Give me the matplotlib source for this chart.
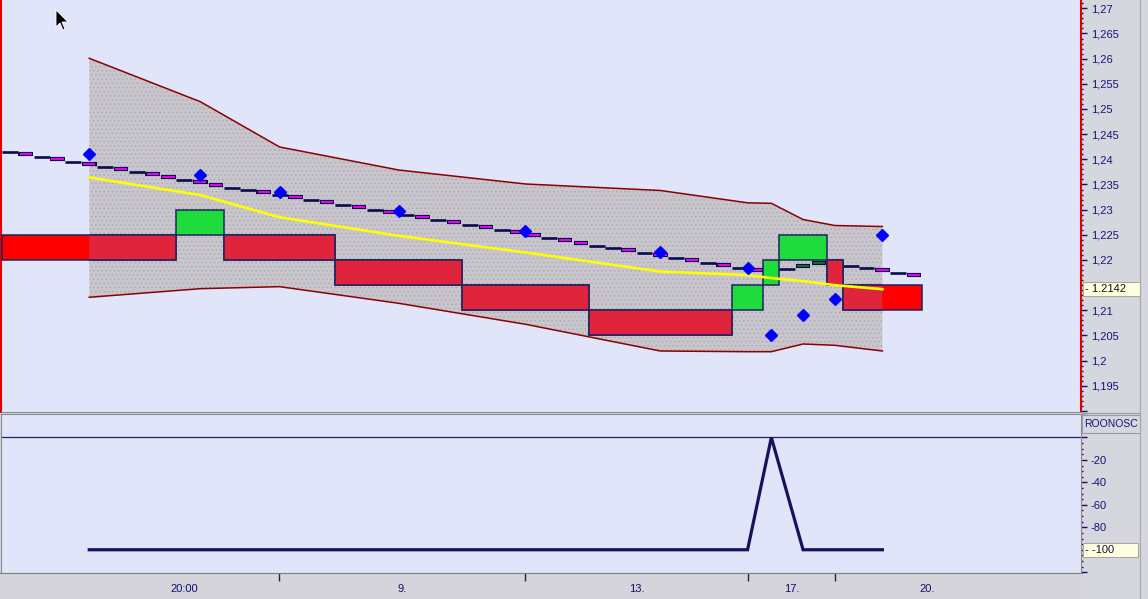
import matplotlib
matplotlib.use('Agg')
import matplotlib.pyplot as plt
from matplotlib.patches import Rectangle, Polygon
from matplotlib.ticker import MultipleLocator, FuncFormatter
import matplotlib.transforms as mtransforms
from matplotlib.lines import Line2D

plt.rcParams['font.family'] = ['Liberation Sans', 'DejaVu Sans']
plt.rcParams['hatch.linewidth'] = 0.4

# ---------------- data ----------------
# moving-average step line, one value per bar (bar k spans k..k+1)
step_vals = [1.24145, 1.24100, 1.24052, 1.24000, 1.23947, 1.23901, 1.23853, 1.23802, 1.23754, 1.23708,
             1.23643, 1.23595, 1.23544, 1.23490, 1.23436, 1.23391, 1.23345, 1.23297, 1.23252, 1.23192,
             1.23146, 1.23093, 1.23047, 1.22993, 1.22948, 1.22894, 1.22848, 1.22795, 1.22749, 1.22695,
             1.22650, 1.22596, 1.22550, 1.22491, 1.22437, 1.22391, 1.22332, 1.22278, 1.22238, 1.22193,
             1.22139, 1.22093, 1.22040, 1.21994, 1.21940, 1.21895, 1.21841, 1.21795, 1.21800, 1.21827,
             1.21875, 1.21934, 1.21910, 1.21887, 1.21847, 1.21795, 1.21748, 1.21696]
step_kind = list("NMNMNMNMNM"
                 "MNMMNNMNMN"
                 "MNMNMNMNMN"
                 "MNMMNMMNNM"
                 "NMNMNMNMNN"
                 "GGNNNMNM")

# boxes
box_start = [0, 11, 14, 21, 29, 37, 46, 48, 49, 52, 53]
box_end = [11, 14, 21, 29, 37, 46, 48, 49, 52, 53, 58]
box_low = [1.220, 1.225, 1.220, 1.215, 1.210, 1.205, 1.210, 1.215, 1.220, 1.215, 1.210]
box_high = [1.225, 1.230, 1.225, 1.220, 1.215, 1.210, 1.215, 1.220, 1.225, 1.220, 1.215]
box_dir = ['down', 'up', 'down', 'down', 'down', 'down', 'up', 'up', 'up', 'down', 'down']

# points
pt_x = [5.5, 12.5, 17.5, 25, 33, 41.5, 47, 48.5, 50.5, 52.5, 55.5]
dot_y = [1.2411, 1.2369, 1.2335, 1.2297, 1.2258, 1.2216, 1.2184, 1.2051, 1.2091, 1.2123, 1.2250]
yellow_y = [1.2364, 1.2329, 1.2285, 1.2248, 1.2215, 1.2177, 1.2170, 1.2164, 1.2158, 1.2150, 1.2142]
band_high = [1.26007, 1.25145, 1.24245, 1.23788, 1.23510, 1.23381, 1.23136, 1.23126, 1.22804, 1.22685, 1.22665]
band_low = [1.21259, 1.21430, 1.21470, 1.21140, 1.20723, 1.20192, 1.20178, 1.20178, 1.20331, 1.20305, 1.20192]
osc_vals = [-100, -100, -100, -100, -100, -100, -100, 0, -100, -100, -100]

last_price = 1.2142
osc_last = -100
osc_name = "ROONOSC"

xtick_pos = [17.5, 33, 47, 52.5]
xlabel_pos = [11.5, 25.25, 40, 49.75, 58.25]
xlabel_txt = ["20:00", "9.", "13.", "17.", "20."]

# ---------------- layout ----------------
W, H = 1148, 599
fig = plt.figure(figsize=(W / 100, H / 100), dpi=100, facecolor='#D6D6DE')


def fx(px):
    return px / W


def fy(py):
    return 1 - py / H


BG = '#E1E5FA'
NAVY = '#12126A'
XMIN, XMAX = -0.063, 68.02

ax = fig.add_axes([fx(1), fy(412), 1080 / W, 412 / H], facecolor=BG)
ax2 = fig.add_axes([fx(1), fy(573), 1080 / W, 159 / H], facecolor=BG)
axs = fig.add_axes([0, 0, 1082 / W, 26 / H], facecolor='#D4D4DA')

# ---------------- main panel ----------------
ax.set_xlim(XMIN, XMAX)
ax.set_ylim(1.18980, 1.27165)

band = ax.fill_between(pt_x, band_low, band_high, facecolor='#C8C6CC', edgecolor='none', zorder=1)
ax.fill_between(pt_x, band_low, band_high, facecolor='none', edgecolor='#A6A4AC',
                hatch='....', linewidth=0, zorder=1.05)
ax.plot(pt_x, band_high, color='#8B0000', lw=1.1, zorder=1.2)
ax.plot(pt_x, band_low, color='#8B0000', lw=1.1, zorder=1.2)

# step line
for k, (v, kind) in enumerate(zip(step_vals, step_kind)):
    if kind == 'N':
        ax.hlines(v, k, k + 1, colors='#0A0A50', linewidth=1.9, capstyle='butt', zorder=2)
    else:
        fill = '#FF00FF' if kind == 'M' else '#127812'
        ax.hlines(v, k + 0.04, k + 0.96, colors='#0A0A50', linewidth=3.0, capstyle='butt', zorder=2)
        ax.hlines(v, k + 0.11, k + 0.89, colors=fill, linewidth=1.3, capstyle='butt', zorder=2.1)

# boxes
clip_path = band.get_paths()[0]
for s, e, lo, hi, d in zip(box_start, box_end, box_low, box_high, box_dir):
    if d == 'up':
        ax.add_patch(Rectangle((s, lo), e - s, hi - lo, facecolor='#1EDC3C',
                               edgecolor='#1E2260', lw=1.1, zorder=3))
    else:
        ax.add_patch(Rectangle((s, lo), e - s, hi - lo, facecolor='#FF0000',
                               edgecolor='#1E2260', lw=1.1, zorder=3))
        r = Rectangle((s, lo), e - s, hi - lo, facecolor='#E0243C',
                      edgecolor='#1E2260', lw=1.1, zorder=3.1)
        ax.add_patch(r)
        r.set_clip_path(clip_path, ax.transData)

ax.plot(pt_x, yellow_y, color='#FFFF00', lw=1.9, zorder=4)
ax.plot(pt_x, dot_y, linestyle='none', marker='D', ms=6.5, color='#0000FF',
        mec='#0000FF', zorder=5)


def fmt_main(v, pos):
    if v < 1.1925 or abs(v - last_price) < 0.002:
        return ''
    s = f"{v:.3f}".rstrip('0').rstrip('.')
    return s.replace('.', ',')


ax.yaxis.tick_right()
ax.yaxis.set_major_locator(MultipleLocator(0.005))
ax.yaxis.set_minor_locator(MultipleLocator(0.001))
ax.yaxis.set_major_formatter(FuncFormatter(fmt_main))
ax.tick_params(axis='y', which='major', direction='out', length=4, width=1, color=NAVY,
               pad=3, labelsize=8, labelcolor='#14147A')
ax.tick_params(axis='y', which='minor', direction='out', length=1.2, width=1, color=NAVY)
ax.set_xticks([])
for side in ['left', 'right']:
    ax.spines[side].set_color('#E00000')
    ax.spines[side].set_linewidth(1.5)
ax.spines['top'].set_visible(False)
ax.spines['bottom'].set_color('#8A8A92')

# last price marker box
bt = mtransforms.blended_transform_factory(fig.transFigure, ax.transData)
ax.add_patch(Rectangle((fx(1083), last_price - 0.00140), fx(1140) - fx(1083), 0.0028,
                       transform=bt, facecolor='#FFFFE0', edgecolor='#A8A8A0', lw=0.8,
                       clip_on=False, zorder=6))
ax.text(fx(1085), last_price, "- " + f"{last_price:.4f}", transform=bt, fontsize=8,
        color='#101010', va='center', ha='left', clip_on=False, zorder=7)

# ---------------- oscillator panel ----------------
ax2.set_xlim(XMIN, XMAX)
ax2.set_ylim(-120.7, 20.9)
ax2.axhline(0, color='#202060', lw=0.9, zorder=1)
ax2.plot(pt_x, osc_vals, color='#14145A', lw=2.3, zorder=2, solid_joinstyle='miter')


def fmt_osc(v, pos):
    if v > -1 or v < -110 or abs(v - osc_last) < 1:
        return ''
    return f"{v:.0f}"


ax2.yaxis.tick_right()
ax2.yaxis.set_major_locator(MultipleLocator(20))
ax2.yaxis.set_minor_locator(MultipleLocator(5))
ax2.yaxis.set_major_formatter(FuncFormatter(fmt_osc))
ax2.tick_params(axis='y', which='major', direction='out', length=4, width=1, color=NAVY,
                pad=3, labelsize=8, labelcolor='#14147A')
ax2.tick_params(axis='y', which='minor', direction='out', length=1.2, width=1, color=NAVY)
ax2.set_xticks([])
for side in ['left', 'right', 'top', 'bottom']:
    ax2.spines[side].set_color('#8A8A92')

bt2 = mtransforms.blended_transform_factory(fig.transFigure, ax2.transData)
ax2.add_patch(Rectangle((fx(1083), osc_last - 6.3), fx(1138) - fx(1083), 12.6,
                        transform=bt2, facecolor='#FFFFE0', edgecolor='#A8A8A0', lw=0.8,
                        clip_on=False, zorder=6))
ax2.text(fx(1085), osc_last, "- " + f"{osc_last:.0f}", transform=bt2, fontsize=8,
         color='#101040', va='center', ha='left', clip_on=False, zorder=7)

# oscillator header
fig.add_artist(Rectangle((fx(1082), fy(433)), fx(1140) - fx(1082), 18 / H, transform=fig.transFigure,
                         facecolor='#D6D6DE', edgecolor='#9A9AA2', lw=0.8))
fig.text(fx(1111), fy(424), osc_name, fontsize=7.5, color='#14147A', va='center', ha='center')

# ---------------- time strip ----------------
axs.set_xlim(XMIN, XMAX)
axs.set_ylim(0, 1)
for side in ['left', 'right', 'bottom']:
    axs.spines[side].set_visible(False)
axs.spines['top'].set_color('#808088')
axs.set_yticks([])
axs.set_xticks(xtick_pos)
axs.tick_params(axis='x', which='major', top=True, bottom=False, direction='in', length=6,
                width=1, color='#202060', labeltop=False, labelbottom=False)
for xp, lbl in zip(xlabel_pos, xlabel_txt):
    axs.text(xp, 0.40, lbl, ha='center', va='center', fontsize=8, color='#10106E',
             family=['Liberation Sans Narrow', 'Liberation Sans'])

# right edge lines
fig.add_artist(Line2D([fx(1140), fx(1140)], [0, 1], transform=fig.transFigure, color='#A8A8B0', lw=0.8))
fig.add_artist(Line2D([fx(1082), fx(1140)], [fy(413), fy(413)], transform=fig.transFigure,
                      color='#9A9AA2', lw=0.8))

# mouse pointer
ptr = [(56, 10), (56, 27), (60, 23), (63, 30), (65, 29), (62, 22), (68, 22)]
fig.add_artist(Polygon([(fx(px), fy(py)) for px, py in ptr], closed=True, transform=fig.transFigure,
                       facecolor='black', edgecolor='white', lw=0.6))

fig.savefig('out.png', dpi=100)
